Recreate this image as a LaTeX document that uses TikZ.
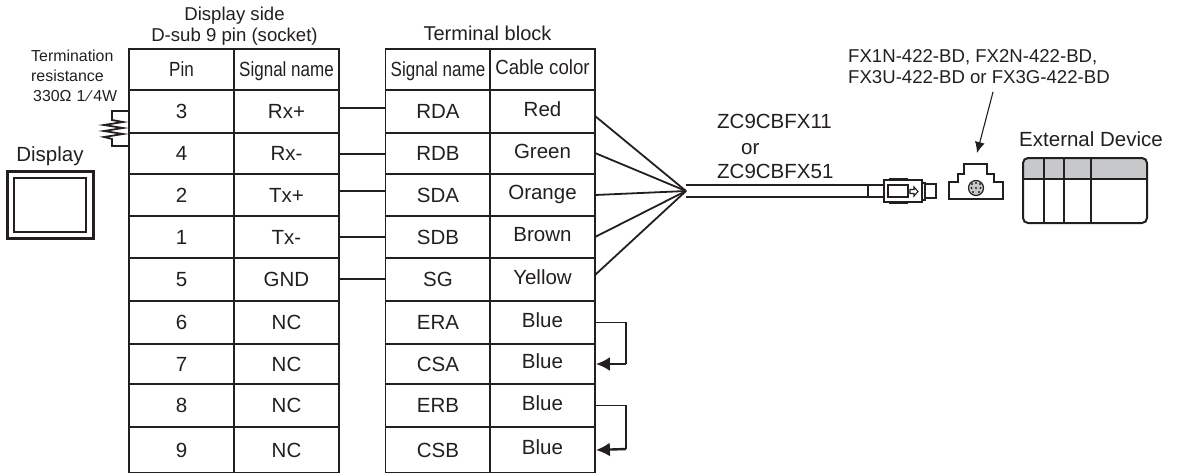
\documentclass[tikz,border=0pt]{standalone}
\usepackage{fontspec}
\setmainfont{Liberation Sans}
\usetikzlibrary{arrows.meta}
\definecolor{ink}{HTML}{231F20}
\definecolor{band}{HTML}{C7C8CA}
\newcommand{\narrowtext}[1]{\scalebox{0.83}[1]{#1}}
\tikzset{
	caption/.style={inner sep=0pt, text=ink, text height=14pt, text depth=0pt, font=\fontsize{20.5}{21}\selectfont},
	twolines/.style={inner sep=0pt, text=ink, font=\fontsize{18.6}{21.5}\selectfont},
	smallcaption/.style={inner sep=0pt, text=ink, align=left, font=\fontsize{15.9}{20}\selectfont},
	cell/.style={draw=ink, text=ink, line width=1.8pt, minimum width=105pt, minimum height=#1, inner sep=0pt, text height=14pt, text depth=0pt, font=\fontsize{20.5}{21}\selectfont},
	colorcell/.style={cell=#1, text depth=5pt},
	wire/.style={draw=ink, line width=1.8pt},
	thinwire/.style={draw=ink, line width=1.1pt},
	part/.style={draw=ink, line width=2pt, line join=miter}
}
\begin{document}
\begin{tikzpicture}[x=1pt,y=-1pt]
	\useasboundingbox (0,0) rectangle (1180,472);
	% Captions
	\node [twolines,align=center] (displayside) at (234.5,26) {Display side\\D-sub 9 pin (socket)};
	\node [caption,font=\fontsize{20}{21}\selectfont] (terminal) at (487.5,33) {Terminal block};
	\node [smallcaption,anchor=north west] (termination) at (31,50) {Termination\\resistance\\\hspace*{2pt}330Ω\hspace{5pt}1\,∕\,4W};
	\node [caption] (displaylabel) at (50,154) {Display};
	\node [caption,anchor=west] (cablea) at (717,121) {ZC9CBFX11};
	\node [caption,anchor=west] (cableor) at (741,147) {or};
	\node [caption,anchor=west] (cableb) at (717,171) {ZC9CBFX51};
	\node [twolines,align=left,anchor=north west] (boards) at (848,49) {FX1N-422-BD, FX2N-422-BD,\\FX3U-422-BD or FX3G-422-BD};
	\node [caption] (device) at (1091,139) {External Device};
	% Display
	\node [draw=ink,line width=3pt,minimum width=86pt,minimum height=67pt] (displayouter) at (50.5,204.5) {};
	\node [draw=ink,line width=2pt,minimum width=72pt,minimum height=54pt] (displayinner) at (50,205) {};
	% Display side table
	\node [cell=41pt] (pinhead) at (181.5,69.5) {\narrowtext{Pin}};
	\node [cell=41pt] (signalhead) at (286.5,69.5) {\narrowtext{Signal name}};
	\node [cell=43pt] (pin3) at (181.5,111.5) {3};
	\node [cell=43pt] (rxp) at (286.5,111.5) {Rx+};
	\node [cell=41pt] (pin4) at (181.5,153.5) {4};
	\node [cell=41pt] (rxm) at (286.5,153.5) {Rx-};
	\node [cell=42pt] (pin2) at (181.5,195) {2};
	\node [cell=42pt] (txp) at (286.5,195) {Tx+};
	\node [cell=42pt] (pin1) at (181.5,237) {1};
	\node [cell=42pt] (txm) at (286.5,237) {Tx-};
	\node [cell=43pt] (pin5) at (181.5,279.5) {5};
	\node [cell=43pt] (gnd) at (286.5,279.5) {GND};
	\node [cell=43pt] (pin6) at (181.5,322.5) {6};
	\node [cell=43pt] (nca) at (286.5,322.5) {NC};
	\node [cell=40pt] (pin7) at (181.5,364) {7};
	\node [cell=40pt] (ncb) at (286.5,364) {NC};
	\node [cell=43pt] (pin8) at (181.5,405.5) {8};
	\node [cell=43pt] (ncc) at (286.5,405.5) {NC};
	\node [cell=46pt] (pin9) at (181.5,450) {9};
	\node [cell=46pt] (ncd) at (286.5,450) {NC};
	% Terminal block table
	\node [cell=41pt] (namehead) at (438,69.5) {\narrowtext{Signal name}};
	\node [colorcell=41pt] (colorhead) at (542.5,69.5) {\scalebox{0.91}[1]{Cable color}};
	\node [cell=43pt] (rda) at (438,111.5) {RDA};
	\node [colorcell=43pt] (red) at (542.5,111.5) {Red};
	\node [cell=41pt] (rdb) at (438,153.5) {RDB};
	\node [colorcell=41pt] (green) at (542.5,153.5) {Green};
	\node [cell=42pt] (sda) at (438,195) {SDA};
	\node [colorcell=42pt] (orange) at (542.5,195) {Orange};
	\node [cell=42pt] (sdb) at (438,237) {SDB};
	\node [colorcell=42pt] (brown) at (542.5,237) {Brown};
	\node [cell=43pt] (sg) at (438,279.5) {SG};
	\node [colorcell=43pt] (yellow) at (542.5,279.5) {Yellow};
	\node [cell=43pt] (era) at (438,322.5) {ERA};
	\node [colorcell=43pt] (bluea) at (542.5,322.5) {Blue};
	\node [cell=40pt] (csa) at (438,364) {CSA};
	\node [colorcell=40pt] (blueb) at (542.5,364) {Blue};
	\node [cell=43pt] (erb) at (438,405.5) {ERB};
	\node [colorcell=43pt] (bluec) at (542.5,405.5) {Blue};
	\node [cell=46pt] (csb) at (438,450) {CSB};
	\node [colorcell=46pt] (blued) at (542.5,450) {Blue};
	% Points on the wires
	\coordinate (fan) at (686,191);
	\coordinate (redend) at (595,116);
	\coordinate (greenend) at (595,153);
	\coordinate (orangeend) at (595,195);
	\coordinate (brownend) at (595,237);
	\coordinate (yellowend) at (595,275);
	\coordinate (loopa) at (626,364);
	\coordinate (loopb) at (626,449);
	\coordinate (resistora) at (112,111);
	\coordinate (resistorb) at (112,146);
	\coordinate (resistorend) at (129,146);
	\coordinate (arrowtail) at (993,92);
	\coordinate (arrowtip) at (977,153);
	% Wires
	\draw [wire] (rxp.east |- 0,108) to (rda.west |- 0,108);
	\draw [wire] (rxm.east |- 0,154) to (rdb.west |- 0,154);
	\draw [wire] (txp.east |- 0,191) to (sda.west |- 0,191);
	\draw [wire] (txm.east |- 0,237) to (sdb.west |- 0,237);
	\draw [wire] (gnd.east |- 0,279) to (sg.west |- 0,279);
	\draw [wire] (redend) to (fan);
	\draw [wire] (greenend) to (fan);
	\draw [wire] (orangeend) to (fan);
	\draw [wire] (brownend) to (fan);
	\draw [wire] (yellowend) to (fan);
	% Jumpers
	\draw [thinwire] (bluea.east) -| (loopa);
	\draw [wire,line width=2.4pt,-{Latex[length=14pt,width=14pt]}] (loopa) to (blueb.east);
	\draw [thinwire] (bluec.east) -| (loopb);
	\draw [wire,line width=2.4pt,-{Latex[length=14pt,width=14pt]}] (loopb) to (blued.east);
	% Resistor
	\draw [wire] (pin3.west |- resistora) -- (resistora) -- (112,120) -- (123,122) -- (104,125) -- (123,128) -- (104,131) -- (123,134) -- (104,137) -- (112,139) -- (resistorb) -- (resistorend);
	% Cable
	\draw [wire] (fan) ++(0,-6) -- (868,185);
	\draw [wire] (fan) ++(0,6) -- (868,197);
	% Plug
	\draw [part] (868,185) rectangle (884,197);
	\draw [part] (884,180) rectangle (922,202);
	\draw [part,line width=2.5pt] (889,179) -- (908,179);
	\draw [part,line width=2.5pt] (889,203) -- (908,203);
	\draw [thinwire] (888,185) rectangle (908,197);
	\draw [thinwire] (910,189.5) -- (914,189.5) -- (914,187) -- (918,191.5) -- (914,196) -- (914,193.5) -- (910,193.5) -- cycle;
	\draw [part] (922,183) rectangle (925,200);
	\draw [part] (925,183.5) rectangle (936,198);
	% Socket
	\draw [thinwire,line width=1.4pt] (949,199) -- (949,182) -- (958,182) -- (958,174) -- (964,174) -- (964,164) -- (987,164) -- (987,174) -- (994,174) -- (994,182) -- (1003,182) -- (1003,199) -- cycle;
	\node [draw=ink,circle,line width=1.2pt,fill=band,minimum size=15pt,inner sep=0pt] (sockethole) at (976,188) {};
	\fill [ink] (972,184) circle (1.2) (976,183) circle (1.2) (980,184) circle (1.2) (971.5,188) circle (1.2) (976,188) circle (1.2) (980.5,188) circle (1.2) (973,192) circle (1.2) (979,192) circle (1.2);
	\draw [thinwire,-{Latex[length=11pt,width=10pt]}] (arrowtail) to (arrowtip);
	% External device
	\fill [band] (1023,179) [rounded corners=5pt] -- (1023,158) -- (1147,158) [sharp corners] -- (1147,179) -- cycle;
	\draw [part,rounded corners=5pt] (1023,158) rectangle (1147,223);
	\draw [part] (1023,179) -- (1147,179);
	\draw [part] (1044,158) -- (1044,223);
	\draw [part] (1064,158) -- (1064,223);
	\draw [part] (1091,158) -- (1091,223);
\end{tikzpicture}
\end{document}
